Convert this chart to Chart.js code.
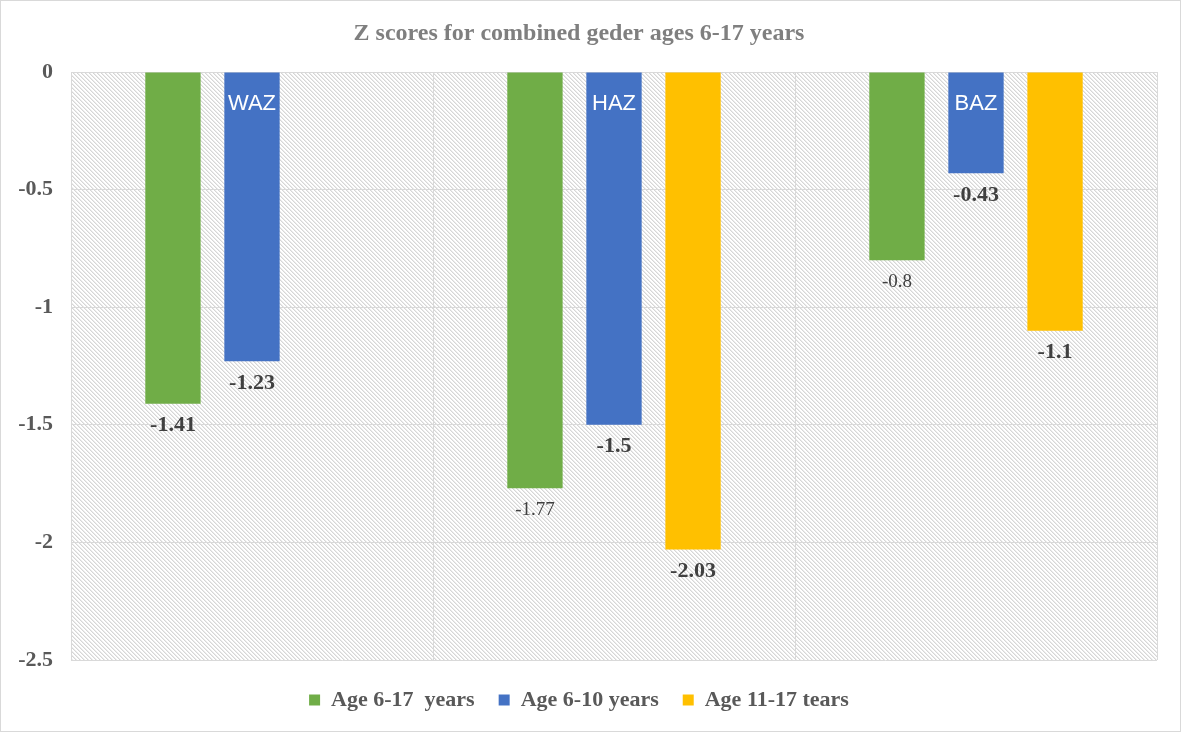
<!DOCTYPE html>
<html>
<head>
<meta charset="utf-8">
<script src="https://cdn.jsdelivr.net/npm/chart.js@4.4.1/dist/chart.umd.min.js"></script>
<style>
  html, body { margin: 0; padding: 0; background: #fff; }
  #wrap { width: 1181px; height: 732px; box-sizing: border-box; border: 1px solid #d9d9d9; position: relative; }
</style>
</head>
<body>
<div id="wrap"><canvas id="chart"></canvas></div>
<script>
// data
const categories = ['WAZ', 'HAZ', 'BAZ'];
const seriesNames = ['Age 6-17  years', 'Age 6-10 years', 'Age 11-17 tears'];
const age6to17 = [-1.41, -1.77, -0.8];
const age6to10 = [-1.23, -1.5, -0.43];
const age11to17 = [null, -2.03, -1.1];
const yTickLabels = ['0', '-0.5', '-1', '-1.5', '-2', '-2.5'];

// styles
const colors = ['#70ad47', '#4472c4', '#ffc000'];
const labelWeights = [['bold', 'normal', 'normal'], ['bold', 'bold', 'bold'], ['bold', 'bold', 'bold']];
const serif = '"Liberation Serif", "Times New Roman", serif';

// diagonal hatch for plot background
function hatch() {
    const c = document.createElement('canvas');
    c.width = 4; c.height = 4;
    const g = c.getContext('2d');
    g.fillStyle = '#ffffff';
    g.fillRect(0, 0, 4, 4);
    for (let i = 0; i < 4; i++) {
        g.fillStyle = '#d6d6d6';
        g.fillRect(i, i, 1, 1);
        g.fillStyle = '#ebebeb';
        g.fillRect((i + 1) % 4, i, 1, 1);
    }
    return c;
}

const bgPlugin = {
    id: 'bg',
    beforeDraw(chart) {
        const { ctx, chartArea: a } = chart;
        ctx.save();
        ctx.fillStyle = ctx.createPattern(hatch(), 'repeat');
        ctx.fillRect(a.left, a.top, a.right - a.left, a.bottom - a.top);
        ctx.restore();
    }
};

const labelPlugin = {
    id: 'labels',
    afterDatasetsDraw(chart) {
        const ctx = chart.ctx;
        ctx.save();
        ctx.textAlign = 'center';
        ctx.textBaseline = 'middle';
        chart.data.datasets.forEach((ds, di) => {
            const meta = chart.getDatasetMeta(di);
            meta.data.forEach((bar, i) => {
                const v = ds.data[i];
                if (v === null) return;
                const w = labelWeights[di][i];
                ctx.font = (w === 'bold' ? 'bold 22px ' : '19px ') + serif;
                ctx.fillStyle = '#404040';
                ctx.fillText(String(v), bar.x, bar.y + 22);
            });
        });
        // category names inside the blue bars
        const meta = chart.getDatasetMeta(1);
        ctx.font = '22px "Liberation Sans", Arial, sans-serif';
        ctx.fillStyle = '#ffffff';
        meta.data.forEach((bar, i) => {
            ctx.fillText(categories[i], bar.x, chart.chartArea.top + 32);
        });
        ctx.restore();
    }
};

new Chart(document.getElementById('chart'), {
    type: 'bar',
    data: {
        labels: categories,
        datasets: [
            { label: seriesNames[0], data: age6to17, backgroundColor: colors[0] },
            { label: seriesNames[1], data: age6to10, backgroundColor: colors[1] },
            { label: seriesNames[2], data: age11to17, backgroundColor: colors[2] }
        ]
    },
    options: {
        responsive: true,
        maintainAspectRatio: false,
        animation: false,
        layout: { padding: { left: 0, right: 23, top: 0, bottom: 10 } },
        datasets: { bar: { categoryPercentage: 0.655, barPercentage: 0.7 } },
        plugins: {
            title: {
                display: true,
                text: 'Z scores for combined geder ages 6-17 years',
                color: '#7f7f7f',
                font: { family: serif, size: 24, weight: 'bold', lineHeight: 1.2 },
                padding: { top: 18, bottom: 24.2 }
            },
            legend: {
                position: 'bottom',
                labels: {
                    color: '#595959',
                    boxWidth: 11,
                    boxHeight: 11,
                    padding: 24,
                    font: { family: serif, size: 22, weight: 'bold' }
                }
            },
            tooltip: { enabled: false }
        },
        scales: {
            x: {
                grid: { color: '#d9d9d9', drawTicks: false, offset: true },
                border: { display: false },
                ticks: { display: false },
                afterFit: s => { s.height = 5; }
            },
            y: {
                min: -2.5,
                max: 0,
                ticks: {
                    stepSize: 0.5,
                    padding: 18,
                    color: '#595959',
                    font: { family: serif, size: 22, weight: 'bold' },
                    callback: (v, i) => yTickLabels[yTickLabels.length - 1 - i]
                },
                grid: { color: '#d9d9d9', drawTicks: false },
                border: { display: false },
                afterFit: s => { s.width = 70; }
            }
        }
    },
    plugins: [bgPlugin, labelPlugin]
});
</script>
</body>
</html>
